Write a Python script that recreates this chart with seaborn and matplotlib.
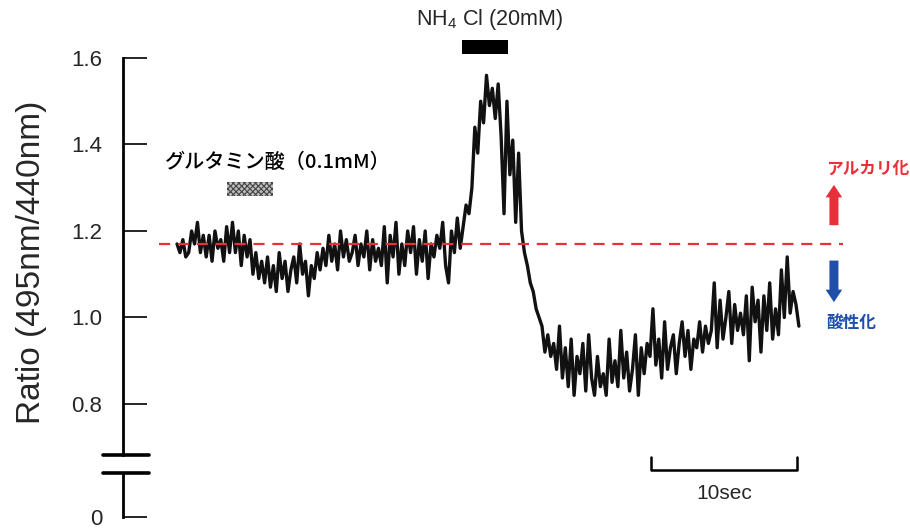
import numpy as np
import pandas as pd
import matplotlib
matplotlib.use('Agg')
import matplotlib.pyplot as plt
import seaborn as sns
from matplotlib.patches import Rectangle
from matplotlib.lines import Line2D

sns.set_style('white')
plt.rcParams['font.family'] = ['Liberation Sans', 'Noto Sans CJK JP', 'DejaVu Sans']
plt.rcParams['mathtext.default'] = 'regular'
plt.rcParams['hatch.linewidth'] = 0.8

dt = 0.2
ratio = [
    1.17, 1.15, 1.18, 1.14, 1.15, 1.20, 1.17, 1.22, 1.15, 1.19,
    1.14, 1.19, 1.13, 1.20, 1.16, 1.18, 1.13, 1.21, 1.15, 1.22,
    1.15, 1.20, 1.12, 1.19, 1.14, 1.18, 1.10, 1.15, 1.09, 1.13,
    1.08, 1.14, 1.07, 1.12, 1.06, 1.15, 1.09, 1.13, 1.06, 1.11,
    1.14, 1.08, 1.17, 1.10, 1.13, 1.05, 1.12, 1.09, 1.15, 1.11,
    1.16, 1.12, 1.19, 1.13, 1.17, 1.11, 1.20, 1.14, 1.18, 1.13,
    1.15, 1.19, 1.12, 1.17, 1.14, 1.20, 1.11, 1.18, 1.13, 1.16,
    1.12, 1.21, 1.08, 1.19, 1.14, 1.22, 1.10, 1.17, 1.12, 1.20,
    1.15, 1.21, 1.10, 1.18, 1.13, 1.20, 1.09, 1.17, 1.14, 1.19,
    1.16, 1.22, 1.12, 1.08, 1.20, 1.15, 1.23, 1.16, 1.21, 1.26,
    1.24, 1.30, 1.44, 1.38, 1.50, 1.45, 1.56, 1.49, 1.53, 1.46,
    1.54, 1.42, 1.24, 1.50, 1.33, 1.41, 1.22, 1.38, 1.20, 1.15,
    1.12, 1.08, 1.06, 1.02, 1.00, 0.98, 0.92, 0.96, 0.91, 0.94,
    0.88, 0.98, 0.86, 0.93, 0.84, 0.95, 0.82, 0.91, 0.87, 0.94,
    0.83, 0.96, 0.86, 0.82, 0.91, 0.84, 0.87, 0.82, 0.95, 0.85,
    0.90, 0.84, 0.97, 0.86, 0.92, 0.83, 0.88, 0.96, 0.82, 0.93,
    0.87, 0.94, 0.91, 1.02, 0.89, 0.95, 0.86, 0.99, 0.88, 0.93,
    0.96, 0.87, 0.94, 0.99, 0.91, 0.97, 0.88, 0.95, 0.93, 0.99,
    0.92, 0.98, 0.94, 0.97, 1.08, 0.93, 1.04, 0.95, 1.00, 1.06,
    0.94, 1.03, 0.97, 1.01, 0.96, 1.05, 0.90, 1.07, 0.99, 1.04,
    0.92, 1.05, 0.97, 1.08, 0.95, 1.02, 0.96, 1.11, 1.00, 1.14,
    1.01, 1.06, 1.03, 0.98,
]
baseline = 1.17
y_ticks = [0.8, 1.0, 1.2, 1.4, 1.6]
y_ticklabels = ['0.8', '1.0', '1.2', '1.4', '1.6']

glu_label = 'グルタミン酸（0.1mM）'
glu_span = (3.4, 6.6)
nh4_label = 'NH$_4$ Cl (20mM)'
nh4_span = (19.5, 22.7)
scale_span = (32.5, 42.5)
scale_label = '10sec'
alk_label = 'アルカリ化'
acid_label = '酸性化'

df = pd.DataFrame({'time': np.arange(len(ratio)) * dt, 'ratio': ratio})

W, H = 910, 530
fig = plt.figure(figsize=(9.1, 5.3), dpi=100)
ax = fig.add_axes([123 / W, 1 - 455 / H, 727 / W, 445 / H])
ax_lo = fig.add_axes([123 / W, 1 - 517 / H, 727 / W, 44 / H])

sns.lineplot(data=df, x='time', y='ratio', ax=ax, color='#111111', lw=2.4)
ax.axhline(baseline, xmin=0.05, xmax=0.99, color='#e8303a', lw=1.6, ls=(0, (5, 3.5)))

ax.set_xlim(-3.7, 46.1)
ax.set_ylim(0.682, 1.711)
for s in ['top', 'right', 'bottom']:
    ax.spines[s].set_visible(False)
ax.spines['left'].set_bounds(0.682, 1.6)
ax.spines['left'].set_linewidth(2.0)
ax.spines['left'].set_color('black')
ax.set_xticks([])
ax.set_yticks(y_ticks)
ax.set_yticklabels(y_ticklabels)
ax.tick_params(axis='y', direction='in', length=17, width=1.4, pad=15, labelsize=16, left=True)
ax.set_xlabel('')
ax.set_ylabel('Ratio (495nm/440nm)', fontsize=24)
ax.yaxis.set_label_coords(-0.105, 0.434)

# lower part of the broken axis
ax_lo.set_xlim(ax.get_xlim())
ax_lo.set_ylim(0, 0.1)
for s in ['top', 'right', 'bottom']:
    ax_lo.spines[s].set_visible(False)
ax_lo.spines['left'].set_linewidth(2.0)
ax_lo.spines['left'].set_color('black')
ax_lo.set_xticks([])
ax_lo.set_yticks([0])
ax_lo.set_yticklabels(['0'])
ax_lo.tick_params(axis='y', direction='in', length=17, width=1.4, pad=15, labelsize=16, left=True)
ax_lo.patch.set_alpha(0)

for py in [455, 473]:
    fig.add_artist(Line2D([103 / W, 149 / W], [1 - py / H, 1 - py / H],
                          transform=fig.transFigure, color='black', lw=2.6))

# stimulus bars
ax.add_patch(Rectangle((glu_span[0], 1.281), glu_span[1] - glu_span[0], 0.033,
                       facecolor='#bdbdbd', edgecolor='#444444', hatch='xxxxxx', lw=0, clip_on=False))
ax.text(-0.8, 1.36, glu_label, fontsize=14.5, ha='left', va='center', color='black',
        fontweight='medium', family=['Noto Sans CJK JP', 'DejaVu Sans'])
ax.add_patch(Rectangle((nh4_span[0], 1.609), nh4_span[1] - nh4_span[0], 0.033,
                       facecolor='black', lw=0, clip_on=False))
ax.text(21.4, 1.69, nh4_label, fontsize=15.5, ha='center', va='center')

# scale bar
ax.plot([scale_span[0], scale_span[0], scale_span[1], scale_span[1]],
        [0.677, 0.647, 0.647, 0.677], color='black', lw=1.8, clip_on=False)
ax.text(np.mean(scale_span), 0.594, scale_label, fontsize=15, ha='center', va='center')

# pH direction arrows
arrow_style = 'simple,head_width=1.2,head_length=0.9,tail_width=0.65'
ax.annotate('', xy=(45.0, 1.313), xytext=(45.0, 1.207),
            arrowprops=dict(arrowstyle=arrow_style, mutation_scale=10,
                            color='#e8303a', lw=0), annotation_clip=False)
ax.annotate('', xy=(45.0, 1.029), xytext=(45.0, 1.138),
            arrowprops=dict(arrowstyle=arrow_style, mutation_scale=10,
                            color='#1f4fa8', lw=0), annotation_clip=False)
ax.text(44.45, 1.343, alk_label, fontsize=12, fontweight='bold', color='#e8303a',
        ha='left', va='center', family=['Noto Sans CJK JP', 'DejaVu Sans'])
ax.text(44.5, 0.987, acid_label, fontsize=12, fontweight='bold', color='#1f4fa8',
        ha='left', va='center', family=['Noto Sans CJK JP', 'DejaVu Sans'])

fig.savefig('out.png', dpi=100)
